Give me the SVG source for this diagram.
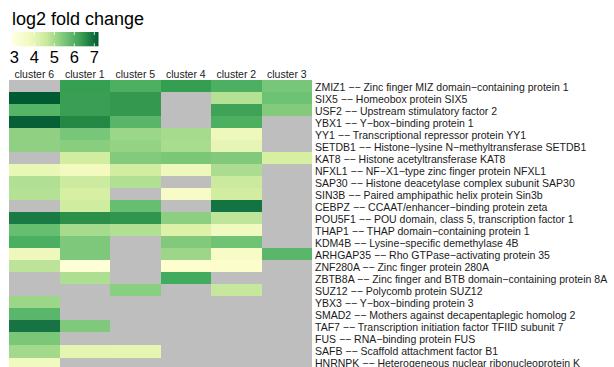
<svg xmlns="http://www.w3.org/2000/svg" width="614" height="367" viewBox="0 0 614 367">
  <defs>
    <linearGradient id="ylgn" x1="0" y1="0" x2="1" y2="0">
      <stop offset="0" stop-color="#ffffe0"/>
      <stop offset="0.2" stop-color="#f2fac0"/>
      <stop offset="0.4" stop-color="#c9e99c"/>
      <stop offset="0.6" stop-color="#7cc77a"/>
      <stop offset="0.8" stop-color="#3a9f54"/>
      <stop offset="1" stop-color="#005a32"/>
    </linearGradient>
  </defs>
  <style>
    text { font-family: "Liberation Sans", Arial, sans-serif; fill: #000; }
    .title { font-size: 18px; }
    .tick { font-size: 16.5px; text-anchor: middle; }
    .col { font-size: 10.5px; text-anchor: middle; fill: #1a1a1a; }
    .row { font-size: 10.5px; fill: #1a1a1a; }
    .na { fill: #bebebe; }
    .tk { stroke: #ffffff; stroke-width: 0.8; }
  </style>
  <rect width="614" height="367" fill="#ffffff"/>

  <!-- colour legend -->
  <g id="legend">
    <text class="title" x="12" y="25">log2 fold change</text>
    <rect x="12" y="32" width="86.5" height="14.3" fill="url(#ylgn)"/>
    <g class="tk">
      <line x1="14.3" y1="32" x2="14.3" y2="35"/><line x1="14.3" y1="43.3" x2="14.3" y2="46.3"/>
      <line x1="34.3" y1="32" x2="34.3" y2="35"/><line x1="34.3" y1="43.3" x2="34.3" y2="46.3"/>
      <line x1="54.3" y1="32" x2="54.3" y2="35"/><line x1="54.3" y1="43.3" x2="54.3" y2="46.3"/>
      <line x1="74.3" y1="32" x2="74.3" y2="35"/><line x1="74.3" y1="43.3" x2="74.3" y2="46.3"/>
      <line x1="94.3" y1="32" x2="94.3" y2="35"/><line x1="94.3" y1="43.3" x2="94.3" y2="46.3"/>
    </g>
    <text class="tick" x="14.3" y="63">3</text>
    <text class="tick" x="34.3" y="63">4</text>
    <text class="tick" x="54.3" y="63">5</text>
    <text class="tick" x="74.3" y="63">6</text>
    <text class="tick" x="94.3" y="63">7</text>
  </g>

  <!-- column headers -->
  <g id="columns">
    <text class="col" x="34.3" y="78">cluster 6</text>
    <text class="col" x="84.8" y="78">cluster 1</text>
    <text class="col" x="135.3" y="78">cluster 5</text>
    <text class="col" x="185.8" y="78">cluster 4</text>
    <text class="col" x="236.3" y="78">cluster 2</text>
    <text class="col" x="286.8" y="78">cluster 3</text>
  </g>

  <!-- heatmap cells: columns 50.5 wide from x=9, rows 12 high from y=80 -->
  <g id="cells" shape-rendering="crispEdges">
    <!-- ZMIZ1 -->
    <rect class="na" x="9" y="80" width="50.5" height="12"/>
    <rect x="59.5" y="80" width="50.5" height="12" fill="#359f52"/>
    <rect x="110" y="80" width="50.5" height="12" fill="#4db061"/>
    <rect x="160.5" y="80" width="50.5" height="12" fill="#349e51"/>
    <rect x="211" y="80" width="50.5" height="12" fill="#4caf61"/>
    <rect x="261.5" y="80" width="50.5" height="12" fill="#78c679"/>
    <!-- SIX5 -->
    <rect x="9" y="92" width="50.5" height="12" fill="#005a32"/>
    <rect x="59.5" y="92" width="50.5" height="12" fill="#3a9f54"/>
    <rect x="110" y="92" width="50.5" height="12" fill="#34994f"/>
    <rect class="na" x="160.5" y="92" width="50.5" height="12"/>
    <rect x="211" y="92" width="50.5" height="12" fill="#b5e195"/>
    <rect x="261.5" y="92" width="50.5" height="12" fill="#6ec274"/>
    <!-- USF2 -->
    <rect x="9" y="104" width="50.5" height="12" fill="#55b567"/>
    <rect x="59.5" y="104" width="50.5" height="12" fill="#3a9f54"/>
    <rect x="110" y="104" width="50.5" height="12" fill="#34994f"/>
    <rect class="na" x="160.5" y="104" width="50.5" height="12"/>
    <rect x="211" y="104" width="50.5" height="12" fill="#3fa357"/>
    <rect x="261.5" y="104" width="50.5" height="12" fill="#84ca7c"/>
    <!-- YBX1 -->
    <rect x="9" y="116" width="50.5" height="12" fill="#065f36"/>
    <rect x="59.5" y="116" width="50.5" height="12" fill="#268845"/>
    <rect x="110" y="116" width="50.5" height="12" fill="#59b56a"/>
    <rect class="na" x="160.5" y="116" width="50.5" height="12"/>
    <rect x="211" y="116" width="50.5" height="12" fill="#4db061"/>
    <rect class="na" x="261.5" y="116" width="50.5" height="12"/>
    <!-- YY1 -->
    <rect x="9" y="128" width="50.5" height="12" fill="#8fd082"/>
    <rect x="59.5" y="128" width="50.5" height="12" fill="#78c679"/>
    <rect x="110" y="128" width="50.5" height="12" fill="#9bd689"/>
    <rect x="160.5" y="128" width="50.5" height="12" fill="#a6db8d"/>
    <rect x="211" y="128" width="50.5" height="12" fill="#eef8bd"/>
    <rect class="na" x="261.5" y="128" width="50.5" height="12"/>
    <!-- SETDB1 -->
    <rect x="9" y="140" width="50.5" height="12" fill="#8fd082"/>
    <rect x="59.5" y="140" width="50.5" height="12" fill="#89cd7e"/>
    <rect x="110" y="140" width="50.5" height="12" fill="#95d384"/>
    <rect x="160.5" y="140" width="50.5" height="12" fill="#a9dc8f"/>
    <rect x="211" y="140" width="50.5" height="12" fill="#e6f5b5"/>
    <rect class="na" x="261.5" y="140" width="50.5" height="12"/>
    <!-- KAT8 -->
    <rect class="na" x="9" y="152" width="50.5" height="12"/>
    <rect x="59.5" y="152" width="50.5" height="12" fill="#d2eda0"/>
    <rect x="110" y="152" width="50.5" height="12" fill="#84ca7c"/>
    <rect x="160.5" y="152" width="50.5" height="12" fill="#7ac778"/>
    <rect x="211" y="152" width="50.5" height="12" fill="#82c97b"/>
    <rect x="261.5" y="152" width="50.5" height="12" fill="#d7efa1"/>
    <!-- NFXL1 -->
    <rect x="9" y="164" width="50.5" height="12" fill="#e8f6b6"/>
    <rect x="59.5" y="164" width="50.5" height="12" fill="#f2fac0"/>
    <rect x="110" y="164" width="50.5" height="12" fill="#d2eda0"/>
    <rect x="160.5" y="164" width="50.5" height="12" fill="#eef8bd"/>
    <rect x="211" y="164" width="50.5" height="12" fill="#abdc8f"/>
    <rect class="na" x="261.5" y="164" width="50.5" height="12"/>
    <!-- SAP30 -->
    <rect x="9" y="176" width="50.5" height="12" fill="#b1df93"/>
    <rect x="59.5" y="176" width="50.5" height="12" fill="#cdeba0"/>
    <rect x="110" y="176" width="50.5" height="12" fill="#b1df93"/>
    <rect class="na" x="160.5" y="176" width="50.5" height="12"/>
    <rect x="211" y="176" width="50.5" height="12" fill="#ccea9e"/>
    <rect class="na" x="261.5" y="176" width="50.5" height="12"/>
    <!-- SIN3B -->
    <rect x="9" y="188" width="50.5" height="12" fill="#b5e195"/>
    <rect x="59.5" y="188" width="50.5" height="12" fill="#d7efa3"/>
    <rect class="na" x="110" y="188" width="50.5" height="12"/>
    <rect x="160.5" y="188" width="50.5" height="12" fill="#f7fcc6"/>
    <rect x="211" y="188" width="50.5" height="12" fill="#d2eda0"/>
    <rect class="na" x="261.5" y="188" width="50.5" height="12"/>
    <!-- CEBPZ -->
    <rect class="na" x="9" y="200" width="50.5" height="12"/>
    <rect x="59.5" y="200" width="50.5" height="12" fill="#cfeca0"/>
    <rect x="110" y="200" width="50.5" height="12" fill="#66bf70"/>
    <rect class="na" x="160.5" y="200" width="50.5" height="12"/>
    <rect x="211" y="200" width="50.5" height="12" fill="#137342"/>
    <rect class="na" x="261.5" y="200" width="50.5" height="12"/>
    <!-- POU5F1 -->
    <rect x="9" y="212" width="50.5" height="12" fill="#1a7a43"/>
    <rect x="59.5" y="212" width="50.5" height="12" fill="#2c8f4a"/>
    <rect x="110" y="212" width="50.5" height="12" fill="#30964d"/>
    <rect x="160.5" y="212" width="50.5" height="12" fill="#8dcf80"/>
    <rect x="211" y="212" width="50.5" height="12" fill="#bfe59a"/>
    <rect class="na" x="261.5" y="212" width="50.5" height="12"/>
    <!-- THAP1 -->
    <rect x="9" y="224" width="50.5" height="12" fill="#66bf70"/>
    <rect x="59.5" y="224" width="50.5" height="12" fill="#a6db8d"/>
    <rect x="110" y="224" width="50.5" height="12" fill="#b1df93"/>
    <rect x="160.5" y="224" width="50.5" height="12" fill="#ddf2a8"/>
    <rect x="211" y="224" width="50.5" height="12" fill="#f0f9c0"/>
    <rect class="na" x="261.5" y="224" width="50.5" height="12"/>
    <!-- KDM4B -->
    <rect x="9" y="236" width="50.5" height="12" fill="#4aaf60"/>
    <rect x="59.5" y="236" width="50.5" height="12" fill="#7dc87a"/>
    <rect class="na" x="110" y="236" width="50.5" height="12"/>
    <rect x="160.5" y="236" width="50.5" height="12" fill="#82c97b"/>
    <rect x="211" y="236" width="50.5" height="12" fill="#70c274"/>
    <rect class="na" x="261.5" y="236" width="50.5" height="12"/>
    <!-- ARHGAP35 -->
    <rect x="9" y="248" width="50.5" height="12" fill="#eef8bd"/>
    <rect x="59.5" y="248" width="50.5" height="12" fill="#7dc87a"/>
    <rect class="na" x="110" y="248" width="50.5" height="12"/>
    <rect x="160.5" y="248" width="50.5" height="12" fill="#9dd689"/>
    <rect x="211" y="248" width="50.5" height="12" fill="#f7fcc6"/>
    <rect x="261.5" y="248" width="50.5" height="12" fill="#5ab66a"/>
    <!-- ZNF280A -->
    <rect x="9" y="260" width="50.5" height="12" fill="#bce399"/>
    <rect x="59.5" y="260" width="50.5" height="12" fill="#feffd5"/>
    <rect class="na" x="110" y="260" width="50.5" height="12"/>
    <rect x="160.5" y="260" width="50.5" height="12" fill="#fdfece"/>
    <rect x="211" y="260" width="50.5" height="12" fill="#fbfdcb"/>
    <rect class="na" x="261.5" y="260" width="50.5" height="12"/>
    <!-- ZBTB8A -->
    <rect class="na" x="9" y="272" width="50.5" height="12"/>
    <rect x="59.5" y="272" width="50.5" height="12" fill="#aede91"/>
    <rect class="na" x="110" y="272" width="50.5" height="12"/>
    <rect x="160.5" y="272" width="50.5" height="12" fill="#41ac5e"/>
    <rect class="na" x="211" y="272" width="101" height="12"/>
    <!-- SUZ12 -->
    <rect class="na" x="9" y="284" width="101" height="12"/>
    <rect x="110" y="284" width="50.5" height="12" fill="#89cf80"/>
    <rect class="na" x="160.5" y="284" width="50.5" height="12"/>
    <rect x="211" y="284" width="50.5" height="12" fill="#c7e89c"/>
    <rect class="na" x="261.5" y="284" width="50.5" height="12"/>
    <!-- YBX3 -->
    <rect x="9" y="296" width="50.5" height="12" fill="#9bd689"/>
    <rect class="na" x="59.5" y="296" width="252.5" height="12"/>
    <!-- SMAD2 -->
    <rect x="9" y="308" width="50.5" height="12" fill="#5ab66a"/>
    <rect class="na" x="59.5" y="308" width="252.5" height="12"/>
    <!-- TAF7 -->
    <rect x="9" y="320" width="50.5" height="12" fill="#177343"/>
    <rect x="59.5" y="320" width="50.5" height="12" fill="#80c97c"/>
    <rect class="na" x="110" y="320" width="202" height="12"/>
    <!-- FUS -->
    <rect x="9" y="332" width="50.5" height="13" fill="#7ac778"/>
    <rect class="na" x="59.5" y="332" width="252.5" height="13"/>
    <!-- SAFB -->
    <rect x="9" y="345" width="50.5" height="13" fill="#a3d98b"/>
    <rect x="59.5" y="345" width="50.5" height="13" fill="#e3f5b0"/>
    <rect x="110" y="345" width="50.5" height="13" fill="#e6f6b1"/>
    <rect class="na" x="160.5" y="345" width="151.5" height="13"/>
    <!-- HNRNPK -->
    <rect x="9" y="358" width="50.5" height="12" fill="#eff9c0"/>
    <rect class="na" x="59.5" y="358" width="252.5" height="12"/>
  </g>

  <!-- row labels -->
  <g id="rows">
    <text class="row" x="315" y="90.5">ZMIZ1 −− Zinc finger MIZ domain−containing protein 1</text>
    <text class="row" x="315" y="102.5">SIX5 −− Homeobox protein SIX5</text>
    <text class="row" x="315" y="114.5">USF2 −− Upstream stimulatory factor 2</text>
    <text class="row" x="315" y="126.5">YBX1 −− Y−box−binding protein 1</text>
    <text class="row" x="315" y="138.5">YY1 −− Transcriptional repressor protein YY1</text>
    <text class="row" x="315" y="150.5">SETDB1 −− Histone−lysine N−methyltransferase SETDB1</text>
    <text class="row" x="315" y="162.5">KAT8 −− Histone acetyltransferase KAT8</text>
    <text class="row" x="315" y="174.5">NFXL1 −− NF−X1−type zinc finger protein NFXL1</text>
    <text class="row" x="315" y="186.5">SAP30 −− Histone deacetylase complex subunit SAP30</text>
    <text class="row" x="315" y="198.5">SIN3B −− Paired amphipathic helix protein Sin3b</text>
    <text class="row" x="315" y="210.5">CEBPZ −− CCAAT/enhancer−binding protein zeta</text>
    <text class="row" x="315" y="222.5">POU5F1 −− POU domain, class 5, transcription factor 1</text>
    <text class="row" x="315" y="234.5">THAP1 −− THAP domain−containing protein 1</text>
    <text class="row" x="315" y="246.5">KDM4B −− Lysine−specific demethylase 4B</text>
    <text class="row" x="315" y="258.5">ARHGAP35 −− Rho GTPase−activating protein 35</text>
    <text class="row" x="315" y="270.5">ZNF280A −− Zinc finger protein 280A</text>
    <text class="row" x="315" y="282.5">ZBTB8A −− Zinc finger and BTB domain−containing protein 8A</text>
    <text class="row" x="315" y="294.5">SUZ12 −− Polycomb protein SUZ12</text>
    <text class="row" x="315" y="306.5">YBX3 −− Y−box−binding protein 3</text>
    <text class="row" x="315" y="318.5">SMAD2 −− Mothers against decapentaplegic homolog 2</text>
    <text class="row" x="315" y="330.5">TAF7 −− Transcription initiation factor TFIID subunit 7</text>
    <text class="row" x="315" y="342.5">FUS −− RNA−binding protein FUS</text>
    <text class="row" x="315" y="355">SAFB −− Scaffold attachment factor B1</text>
    <text class="row" x="315" y="367">HNRNPK −− Heterogeneous nuclear ribonucleoprotein K</text>
  </g>
</svg>
